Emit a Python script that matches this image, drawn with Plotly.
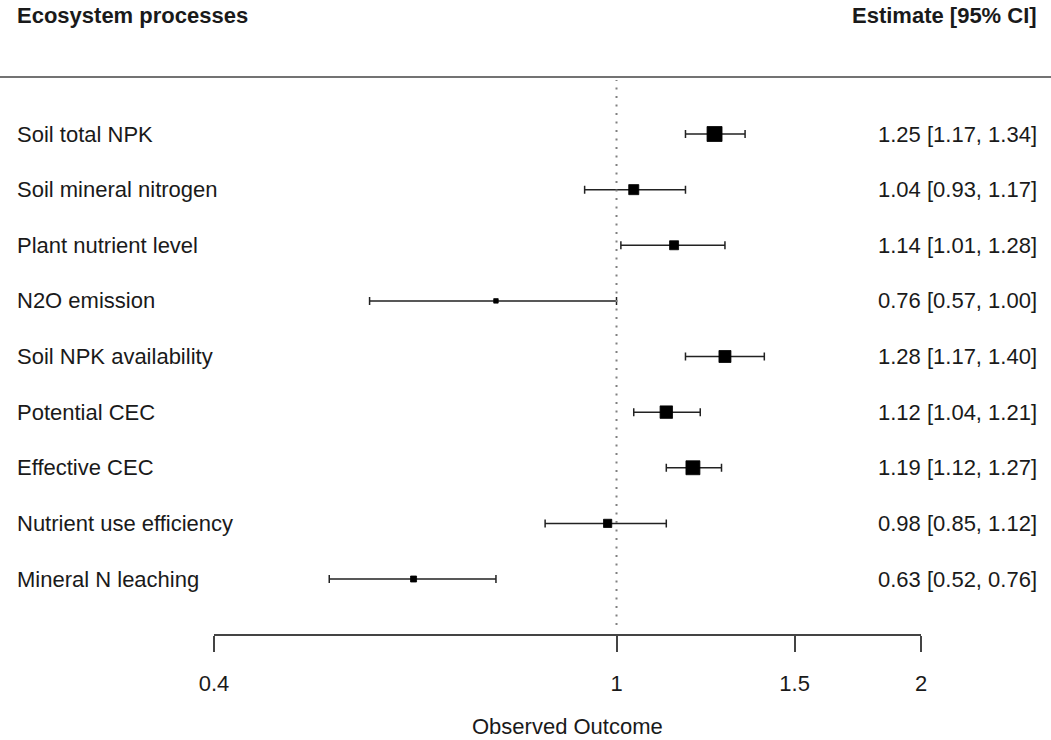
import plotly.graph_objects as go

# ---- data ----
processes = ["Soil total NPK", "Soil mineral nitrogen", "Plant nutrient level",
             "N2O emission", "Soil NPK availability", "Potential CEC",
             "Effective CEC", "Nutrient use efficiency", "Mineral N leaching"]
estimate = [1.25, 1.04, 1.14, 0.76, 1.28, 1.12, 1.19, 0.98, 0.63]
ci_low = [1.17, 0.93, 1.01, 0.57, 1.17, 1.04, 1.12, 0.85, 0.52]
ci_high = [1.34, 1.17, 1.28, 1.00, 1.40, 1.21, 1.27, 1.12, 0.76]
weight = [1.0, 0.67, 0.6, 0.3, 0.8, 0.83, 0.93, 0.55, 0.4]  # relative study weight
tick_vals = [0.4, 1, 1.5, 2]
tick_text = ["0.4", "1", "1.5", "2"]
x_title = "Observed Outcome"

# ---- layout constants ----
W, H = 1051, 740
L, R, T, B = 214, 130, 0, 106
PW = W - L - R
PH = H - T - B
n = len(processes)
rows = [n - i for i in range(n)]
row_px0, row_step = 134, 55.625  # pixel of top row and spacing


def py(px):  # pixel -> y data
    return n - (px - row_px0) / row_step


def pxp(px):  # pixel -> paper x
    return (px - L) / PW


def pyp(px):  # pixel -> paper y
    return (H - B - px) / PH


FONT = "Liberation Sans, Arial, Helvetica, sans-serif"
FS = 22
TXT = "#1a1a1a"

fig = go.Figure()

fig.add_trace(go.Scatter(
    x=estimate, y=rows, mode="markers",
    marker=dict(symbol="square", size=[w * 15 for w in weight], color="black",
                opacity=1, line=dict(width=0.8, color="black")),
    error_x=dict(type="data", symmetric=False,
                 array=[h - e for h, e in zip(ci_high, estimate)],
                 arrayminus=[e - l for e, l in zip(estimate, ci_low)],
                 color="#222222", thickness=1.5, width=4),
    showlegend=False, hoverinfo="skip", cliponaxis=False,
))

shapes = [
    dict(type="line", xref="x", yref="y", x0=1, x1=1, y0=py(625), y1=py(80),
         line=dict(color="#808080", width=2, dash="2px,6.5px")),
    dict(type="line", xref="paper", yref="y", x0=pxp(0), x1=pxp(W), y0=py(77), y1=py(77),
         line=dict(color="#444444", width=1.5)),
]

ann = []
for r, p, e, lo, hi in zip(rows, processes, estimate, ci_low, ci_high):
    ann.append(dict(x=pxp(15), y=r, xref="paper", yref="y", text=p, showarrow=False,
                    xanchor="left", yanchor="middle", font=dict(family=FONT, size=FS, color=TXT)))
    ann.append(dict(x=pxp(1039), y=r, xref="paper", yref="y",
                    text=f"{e:.2f} [{lo:.2f}, {hi:.2f}]", showarrow=False,
                    xanchor="right", yanchor="middle", font=dict(family=FONT, size=FS, color=TXT)))
ann.append(dict(x=pxp(15), y=py(15.5), xref="paper", yref="y", text="<b>Ecosystem processes</b>",
                showarrow=False, xanchor="left", yanchor="middle",
                font=dict(family=FONT, size=FS, color=TXT)))
ann.append(dict(x=pxp(1039), y=py(15.5), xref="paper", yref="y", text="<b>Estimate [95% CI]</b>",
                showarrow=False, xanchor="right", yanchor="middle",
                font=dict(family=FONT, size=FS, color=TXT)))
ann.append(dict(x=pxp(567), y=pyp(726), xref="paper", yref="paper", text=x_title,
                showarrow=False, xanchor="center", yanchor="middle", borderpad=0,
                font=dict(family=FONT, size=FS, color=TXT)))

fig.update_layout(
    width=W, height=H, margin=dict(l=L, r=R, t=T, b=B, autoexpand=False),
    paper_bgcolor="white", plot_bgcolor="white",
    shapes=shapes, annotations=ann,
    xaxis=dict(type="log", range=[-0.39794, 0.30103], tickvals=tick_vals, ticktext=tick_text,
               showgrid=False, zeroline=False, showline=True, linecolor="#444444", linewidth=1.5,
               ticks="outside", ticklen=16, tickwidth=1.5, tickcolor="#444444",
               tickfont=dict(family=FONT, size=FS, color=TXT), ticklabelstandoff=13,
               automargin=False, fixedrange=True),
    yaxis=dict(range=[py(634), py(0)], visible=False, fixedrange=True),
)

fig.write_html("out.html")
